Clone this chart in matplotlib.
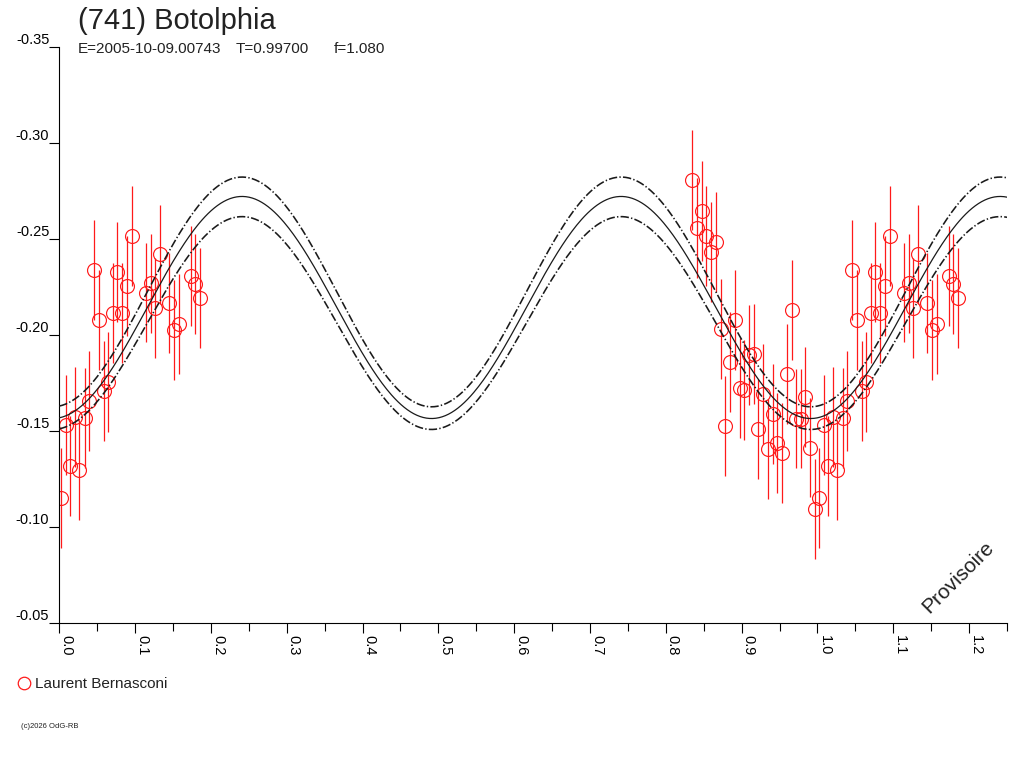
import matplotlib
matplotlib.use("Agg")

import matplotlib.pyplot as plt
from matplotlib.lines import Line2D
from matplotlib.ticker import MultipleLocator
import numpy as np

plt.rcParams["font.family"] = ["Liberation Sans", "DejaVu Sans"]
plt.rcParams["lines.scale_dashes"] = False

# observations, phase 0.00-0.19 (plotted again at +1)
phase_a = [0.0022, 0.0088, 0.0145, 0.0207, 0.0264, 0.0335, 0.0396, 0.0462,
           0.0520, 0.0586, 0.0646, 0.0704, 0.0765, 0.0831, 0.0893, 0.0955,
           0.1137, 0.1203, 0.1265, 0.1331, 0.1451, 0.1516, 0.1576, 0.1731,
           0.1794, 0.1854]
mag_a = [-0.1153, -0.1534, -0.1321, -0.1572, -0.1300, -0.1569, -0.1656, -0.2341,
         -0.2078, -0.1709, -0.1758, -0.2117, -0.2329, -0.2114, -0.2254, -0.2514,
         -0.2222, -0.2269, -0.2140, -0.2420, -0.2168, -0.2028, -0.2058, -0.2306,
         -0.2264, -0.2194]

# observations, phase 0.83-1.00
phase_b = [0.8351, 0.8413, 0.8475, 0.8536, 0.8602, 0.8668, 0.8726, 0.8786,
           0.8851, 0.8917, 0.8974, 0.9036, 0.9103, 0.9158, 0.9218, 0.9286,
           0.9346, 0.9409, 0.9472, 0.9534, 0.9596, 0.9660, 0.9719, 0.9778,
           0.9842, 0.9908, 0.9967]
mag_b = [-0.2806, -0.2556, -0.2644, -0.2514, -0.2434, -0.2483, -0.2030, -0.1529,
         -0.1859, -0.2077, -0.1727, -0.1714, -0.1897, -0.1904, -0.1513, -0.1694,
         -0.1408, -0.1588, -0.1440, -0.1387, -0.1798, -0.2129, -0.1566, -0.1566,
         -0.1676, -0.1415, -0.1094]

mag_err = 0.026

# fitted lightcurve (2nd harmonic): centre, upper and lower envelopes
curve_mean = [-0.2144, -0.2225, -0.2063]
curve_amp = [0.0578, 0.0598, 0.0554]
peak_phase = 0.241

x_ticks = [0.0, 0.1, 0.2, 0.3, 0.4, 0.5, 0.6, 0.7, 0.8, 0.9, 1.0, 1.1, 1.2]
y_ticks = [-0.35, -0.30, -0.25, -0.20, -0.15, -0.10, -0.05]

W, H = 1024, 768
fig = plt.figure(figsize=(W / 100, H / 100), dpi=100)
ax = fig.add_axes([59.3 / W, 1 - 623.3 / H, (1007 - 59.3) / W, (623.3 - 47) / H])

red = "#ff1a1a"
ph = np.concatenate([phase_a, np.array(phase_a) + 1.0, phase_b])
mg = np.concatenate([mag_a, mag_a, mag_b])
ax.errorbar(ph, mg, yerr=mag_err, fmt="o", ms=10, mfc="none", mec=red, mew=0.85,
            ecolor=red, elinewidth=0.9, capsize=0, zorder=2)

phi = np.linspace(0, 1.25, 600)
styles = ["-", (0, (6, 1.6, 1.0, 1.6)), (0, (6, 1.6, 1.0, 1.6))]
widths = [0.9, 1.15, 1.15]
for m, a, ls, lw in zip(curve_mean, curve_amp, styles, widths):
    ax.plot(phi, m - a * np.cos(4 * np.pi * (phi - peak_phase)), color="#1a1a1a",
            ls=ls, lw=lw, zorder=3)

ax.set_xlim(0, 1.25)
ax.set_ylim(-0.05, -0.35)
ax.set_xticks(x_ticks)
ax.set_xticklabels([f"{v:.1f}" for v in x_ticks], rotation=-90, ha="left", va="top",
                   fontsize=10.5)
ax.xaxis.set_minor_locator(MultipleLocator(0.05))
ax.set_yticks(y_ticks)
ax.set_yticklabels([f"{v:.2f}" for v in y_ticks], fontsize=10.5, va="bottom")
ax.tick_params(axis="x", which="major", length=7.2, width=0.8, pad=1)
ax.tick_params(axis="x", which="minor", length=5.8, width=0.8)
ax.tick_params(axis="y", which="major", length=7.2, width=0.8, pad=0)
for s in ["top", "right"]:
    ax.spines[s].set_visible(False)
for s in ["left", "bottom"]:
    ax.spines[s].set_linewidth(0.8)

ax.text(958.3 / W, 1 - 577.5 / H, "Provisoire", transform=fig.transFigure, rotation=45,
        ha="center", va="center", fontsize=15, color="#222222")

fig.text(78 / W, 1 - 29 / H, "(741) Botolphia", fontsize=21, va="baseline", color="#222222")
fig.text(78 / W, 1 - 53 / H, "E=2005-10-09.00743", fontsize=11, va="baseline", color="#222222")
fig.text(236 / W, 1 - 53 / H, "T=0.99700", fontsize=11, va="baseline", color="#222222")
fig.text(334 / W, 1 - 53 / H, "f=1.080", fontsize=11, va="baseline", color="#222222")

fig.add_artist(Line2D([24 / W], [1 - 683 / H], marker="o", ms=9, mfc="none", mec=red,
                      mew=0.9, ls="none", transform=fig.transFigure))
fig.text(35 / W, 1 - 688 / H, "Laurent Bernasconi", fontsize=11, va="baseline", color="#222222")
fig.text(20.7 / W, 1 - 728 / H, "(c)2026 OdG-RB", fontsize=5.5, va="baseline", color="#222222")

fig.savefig("out.png", dpi=100)
